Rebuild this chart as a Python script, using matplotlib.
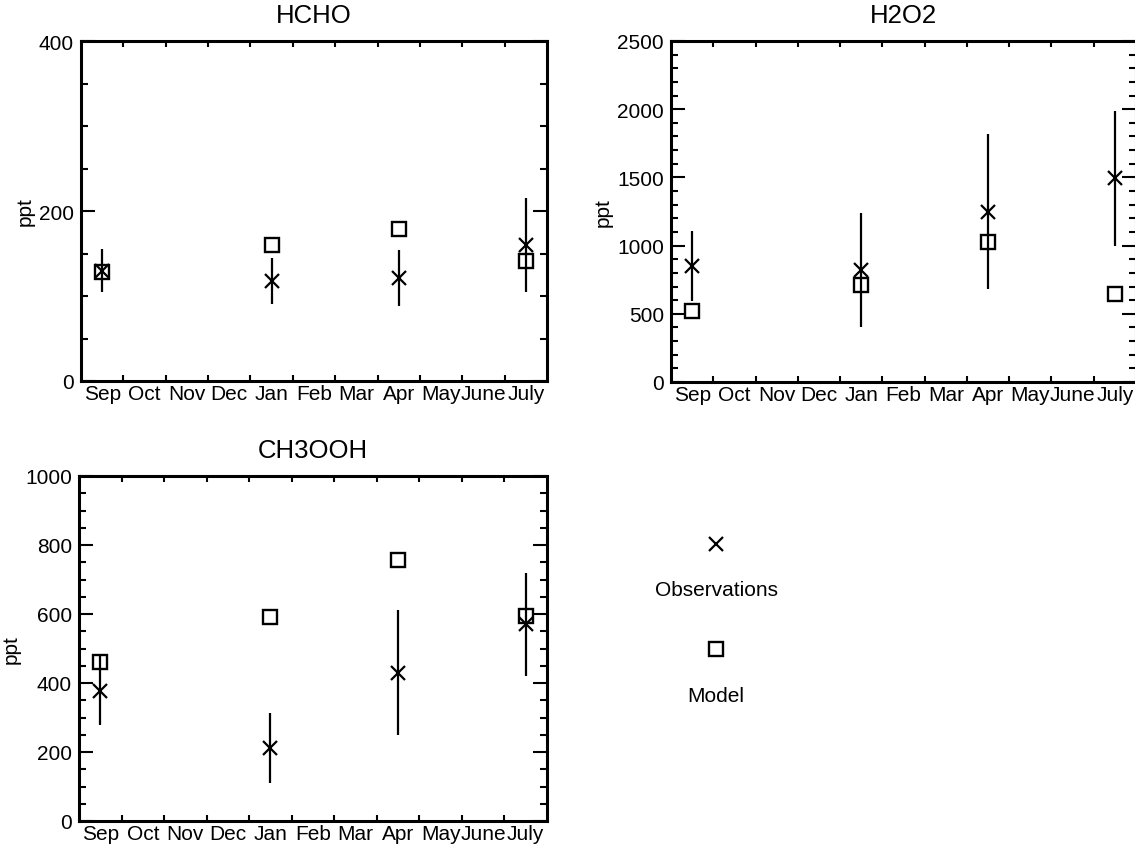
import numpy as np
import matplotlib.pyplot as plt
from matplotlib.lines import Line2D
from matplotlib.ticker import MultipleLocator, FixedLocator, NullFormatter, FixedFormatter

plt.rcParams['font.family'] = ['Liberation Sans', 'DejaVu Sans']

months = ['Sep', 'Oct', 'Nov', 'Dec', 'Jan', 'Feb', 'Mar', 'Apr', 'May', 'June', 'July']
campaigns = ['Sep', 'Jan', 'Apr', 'July']

# HCHO (ppt)
hcho_obs = [130, 118, 121, 160]
hcho_err = [25, 27, 33, 55]
hcho_model = [128, 160, 179, 141]

# H2O2 (ppt)
h2o2_obs = [850, 820, 1250, 1495]
h2o2_err = [255, 420, 570, 495]
h2o2_model = [520, 708, 1030, 645]

# CH3OOH (ppt)
ch3ooh_obs = [378, 211, 430, 570]
ch3ooh_err = [100, 101, 181, 150]
ch3ooh_model = [460, 591, 757, 593]

W, H = 1135, 845
fig = plt.figure(figsize=(W / 100, H / 100), dpi=100)

def px_axes(left, top, right, bottom):
    return fig.add_axes([left / W, 1 - bottom / H, (right - left) / W, (bottom - top) / H])

xpos = [months.index(m) + 0.5 for m in campaigns]

def panel(ax, title, obs, err, model, ymax, major, minor):
    ax.errorbar(xpos, obs, yerr=err, fmt='none', ecolor='black', elinewidth=1.6, capsize=0)
    ax.plot(xpos, obs, 'x', color='black', markersize=10, mew=1.6)
    ax.plot(xpos, model, 's', color='black', markerfacecolor='none', markersize=9.5, mew=1.7)
    ax.set_xlim(0, len(months))
    ax.set_ylim(0, ymax)
    ax.xaxis.set_major_locator(FixedLocator(np.arange(1, len(months))))
    ax.xaxis.set_major_formatter(NullFormatter())
    ax.xaxis.set_minor_locator(FixedLocator(np.arange(len(months)) + 0.5))
    ax.xaxis.set_minor_formatter(FixedFormatter(months))
    ax.tick_params(axis='x', which='major', direction='in', length=4, width=1.5, top=True, bottom=True)
    ax.tick_params(axis='x', which='minor', length=0, pad=2, labelsize=15)
    ax.yaxis.set_major_locator(MultipleLocator(major))
    ax.yaxis.set_minor_locator(MultipleLocator(minor))
    ax.tick_params(axis='y', which='major', direction='in', length=10, width=1.5,
                   left=True, right=True, labelsize=15, pad=5)
    ax.tick_params(axis='y', which='minor', direction='in', length=5, width=1.5,
                   left=True, right=True)
    for s in ax.spines.values():
        s.set_linewidth(2.2)
    ax.set_title(title, fontsize=18.5, pad=14)
    ax.set_ylabel('ppt', fontsize=15, labelpad=3)

ax1 = px_axes(81, 42, 547, 382)
panel(ax1, 'HCHO', hcho_obs, hcho_err, hcho_model, 400, 200, 50)

ax2 = px_axes(671, 42, 1136, 383)
panel(ax2, 'H2O2', h2o2_obs, h2o2_err, h2o2_model, 2500, 500, 100)

ax3 = px_axes(79, 477, 547, 822)
panel(ax3, 'CH3OOH', ch3ooh_obs, ch3ooh_err, ch3ooh_model, 1000, 200, 50)

# Key: symbol above its name
kx = 716 / W
fig.add_artist(Line2D([kx], [1 - 545 / H], marker='x', color='black', markersize=10, mew=1.6,
                      linestyle='none', transform=fig.transFigure))
fig.text(kx, 1 - 591 / H, 'Observations', ha='center', va='center', fontsize=15)
fig.add_artist(Line2D([kx], [1 - 650 / H], marker='s', color='black', markerfacecolor='none',
                      markersize=9.5, mew=1.7, linestyle='none', transform=fig.transFigure))
fig.text(kx, 1 - 697 / H, 'Model', ha='center', va='center', fontsize=15)

fig.savefig('out.png', dpi=100)
